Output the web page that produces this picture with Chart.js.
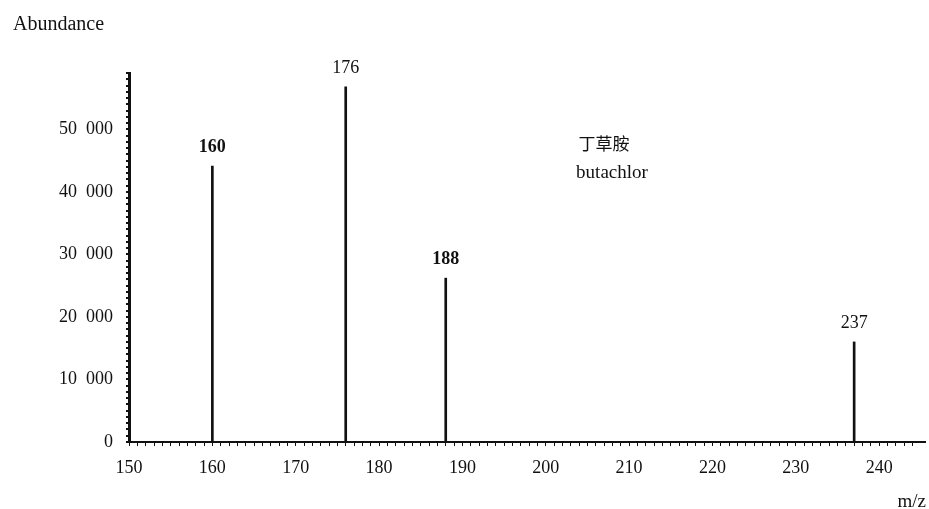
<!DOCTYPE html>
<html>
<head>
<meta charset="utf-8">
<script src="https://cdn.jsdelivr.net/npm/chart.js@4/dist/chart.umd.min.js"></script>
<style>
  html, body { margin: 0; padding: 0; background: #fff; }
  #wrap { width: 929px; height: 509px; }
</style>
</head>
<body>
<div id="wrap"><canvas id="spectrum" width="929" height="509"></canvas></div>
<script>
// Mass spectrum peaks (m/z and abundance)
const mzValues   = [160, 176, 188, 237];
const abundances = [44100, 56800, 26200, 16000];
const peakLabels = ['160', '176', '188', '237'];
const boldPeaks  = ['160', '188'];

// Axis ticks
const xTickValues = [150, 160, 170, 180, 190, 200, 210, 220, 230, 240];
const yTickValues = [0, 10000, 20000, 30000, 40000, 50000];
const yTickLabels = ['0', '10\u2002000', '20\u2002000', '30\u2002000', '40\u2002000', '50\u2002000'];

// Texts
const yAxisTitle   = 'Abundance';
const xAxisTitle   = 'm/z';
const compoundZh   = '丁草胺';
const compoundEn   = 'butachlor';

const SERIF = '"Liberation Serif", "Times New Roman", serif';
const INK = '#111';

const textPlugin = {
  id: 'spectrumText',
  afterDatasetsDraw(chart) {
    const ctx = chart.ctx;
    const meta = chart.getDatasetMeta(0);
    ctx.save();
    ctx.fillStyle = INK;
    ctx.textAlign = 'center';
    ctx.textBaseline = 'alphabetic';
    meta.data.forEach((bar, i) => {
      const lbl = peakLabels[i];
      ctx.font = (boldPeaks.includes(lbl) ? 'bold ' : '') + '18px ' + SERIF;
      ctx.fillText(lbl, bar.x, bar.y - 14);
    });

    // axis captions
    ctx.font = '20px ' + SERIF;
    ctx.textAlign = 'left';
    ctx.fillText(yAxisTitle, 13, 30);
    ctx.font = '19px ' + SERIF;
    ctx.textAlign = 'right';
    ctx.fillText(xAxisTitle, 926, 507);

    // compound name
    ctx.textAlign = 'center';
    ctx.textBaseline = 'middle';
    ctx.font = '17px "Noto Sans CJK SC", sans-serif';
    ctx.fillText(compoundZh, 604, 144);
    ctx.textBaseline = 'alphabetic';
    ctx.font = '19px ' + SERIF;
    ctx.fillText(compoundEn, 612, 178);
    ctx.restore();
  }
};

new Chart(document.getElementById('spectrum'), {
  type: 'bar',
  data: {
    datasets: [{
      data: mzValues.map((m, i) => ({ x: m, y: abundances[i] })),
      backgroundColor: INK,
      borderWidth: 0,
      barThickness: 2
    }]
  },
  options: {
    responsive: false,
    animation: false,
    devicePixelRatio: 1,
    layout: { padding: { left: 0, right: 4, top: 73, bottom: 0 } },
    plugins: {
      legend: { display: false },
      tooltip: { enabled: false }
    },
    scales: {
      x: {
        type: 'linear',
        min: 150,
        max: 245.5,
        offset: false,
        afterBuildTicks: s => { s.ticks = s.ticks.filter(t => Number.isInteger(t.value)); },
        afterFit: s => { s.height = 67; },
        ticks: {
          stepSize: 1,
          autoSkip: false,
          maxRotation: 0,
          padding: 11,
          color: INK,
          font: { family: SERIF, size: 18 },
          callback: v => (xTickValues.includes(v) ? String(v) : '')
        },
        grid: {
          offset: false,
          drawOnChartArea: false,
          drawTicks: true,
          tickLength: 4,
          color: INK,
          lineWidth: 1
        },
        border: { display: true, color: INK, width: 2 }
      },
      y: {
        min: 0,
        max: 59000,
        afterBuildTicks: s => { s.ticks = s.ticks.filter(t => t.value % 1000 === 0); },
        afterFit: s => { s.width = 129; },
        ticks: {
          stepSize: 1000,
          autoSkip: false,
          padding: 13,
          color: INK,
          font: { family: SERIF, size: 18 },
          callback: v => {
            const idx = yTickValues.indexOf(v);
            return idx >= 0 ? yTickLabels[idx] : '';
          }
        },
        grid: {
          drawOnChartArea: false,
          drawTicks: true,
          tickLength: 3,
          color: INK,
          lineWidth: 2
        },
        border: { display: true, color: INK, width: 3 }
      }
    }
  },
  plugins: [textPlugin]
});
</script>
</body>
</html>
